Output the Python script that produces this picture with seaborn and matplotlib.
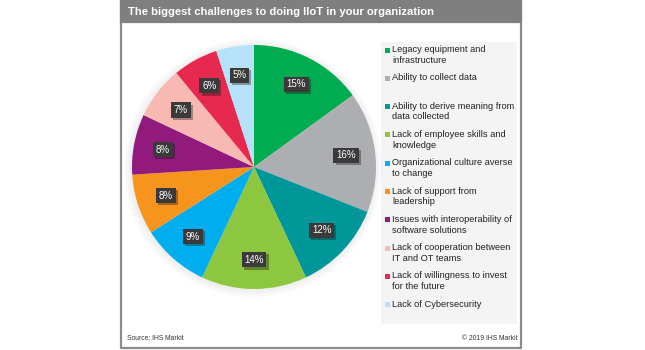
import matplotlib
matplotlib.use("Agg")
import matplotlib.pyplot as plt
import matplotlib.patches as mpatches
import matplotlib.patheffects as pe
import numpy as np
import seaborn as sns

# Survey results: share of respondents per challenge (%)
challenges = [
    "Legacy equipment and\ninfrastructure",
    "Ability to collect data",
    "Ability to derive meaning from\ndata collected",
    "Lack of employee skills and\nknowledge",
    "Organizational culture averse\nto change",
    "Lack of support from\nleadership",
    "Issues with interoperability of\nsoftware solutions",
    "Lack of cooperation between\nIT and OT teams",
    "Lack of willingness to invest\nfor the future",
    "Lack of Cybersecurity",
]
shares = [15, 16, 12, 14, 9, 8, 8, 7, 6, 5]
slice_colors = [
    "#00ac4f", "#adaeb2", "#00979a", "#8dc63f", "#00aeef",
    "#f7941d", "#921a7d", "#f8b9b2", "#e8294f", "#b5e2f8",
]

title = "The biggest challenges to doing IIoT in your organization"
source = "Source: IHS Markit"
copyright_note = "\u00a9 2019 IHS Markit"

sns.set_theme(style="white")
plt.rcParams["font.family"] = ["Liberation Sans", "DejaVu Sans"]

W, H = 645, 350
fig = plt.figure(figsize=(W / 100, H / 100), dpi=100)
fig.patch.set_facecolor("white")

# Background layer in pixel coordinates (origin top-left)
bg = fig.add_axes([0, 0, 1, 1], zorder=0)
bg.set_xlim(0, W)
bg.set_ylim(H, 0)
bg.axis("off")

# Panel frame and title bar
bg.add_patch(mpatches.Rectangle((121, 1), 400, 347, facecolor="white",
                                edgecolor="#8c8c8c", lw=1.6))
bg.add_patch(mpatches.Rectangle((121, 1), 400, 21, facecolor="#7f7f7f",
                                edgecolor="#7f7f7f", lw=1.6))
bg.text(128, 12, title, color="white", fontsize=8.1, fontweight="bold",
        va="center", ha="left")

# Legend panel
bg.add_patch(mpatches.Rectangle((381, 42), 136, 282, facecolor="#f4f4f4",
                                edgecolor="none"))
y0, step = 50, 28.3
for i, (lab, col) in enumerate(zip(challenges, slice_colors)):
    y = y0 + i * step
    bg.add_patch(mpatches.Rectangle((385, y - 2.5), 5, 5, facecolor=col,
                                    edgecolor="none"))
    bg.text(392, y - 5, lab, fontsize=6.7, color="#222222", va="top",
            ha="left", linespacing=1.25)

# Footer
bg.text(127, 339, source, fontsize=4.9, color="#333333", va="center", ha="left")
bg.text(518, 339, copyright_note, fontsize=4.9, color="#333333", va="center",
        ha="right")

# Soft halo around the pie
cx, cy, R = 254, 167, 122
for k in range(8):
    bg.add_patch(mpatches.Circle((cx - 1, cy + 1), R + 1 + k * 1.0,
                                 facecolor="#000000", alpha=0.009,
                                 edgecolor="none"))

# Pie chart
pax = fig.add_axes([(cx - R) / W, (H - cy - R) / H, 2 * R / W, 2 * R / H],
                   zorder=2)
wedges, _ = pax.pie(shares, colors=slice_colors, startangle=90,
                    counterclock=False, radius=1.0,
                    wedgeprops=dict(linewidth=0))
for w, v in zip(wedges, shares):
    ang = np.deg2rad((w.theta1 + w.theta2) / 2)
    x, y = 0.76 * np.cos(ang), 0.76 * np.sin(ang)
    t = pax.text(x, y, f"{v}%", color="white", fontsize=7.0, ha="center",
                 va="center",
                 bbox=dict(boxstyle="square,pad=0.28", facecolor="#3a3a3a",
                           edgecolor="none"))
    t.get_bbox_patch().set_path_effects(
        [pe.SimplePatchShadow(offset=(1.5, -1.5), alpha=0.35), pe.Normal()])
pax.set_xlim(-1, 1)
pax.set_ylim(-1, 1)
pax.set_aspect("equal")
pax.axis("off")

fig.savefig("out.png", dpi=100, facecolor="white")
